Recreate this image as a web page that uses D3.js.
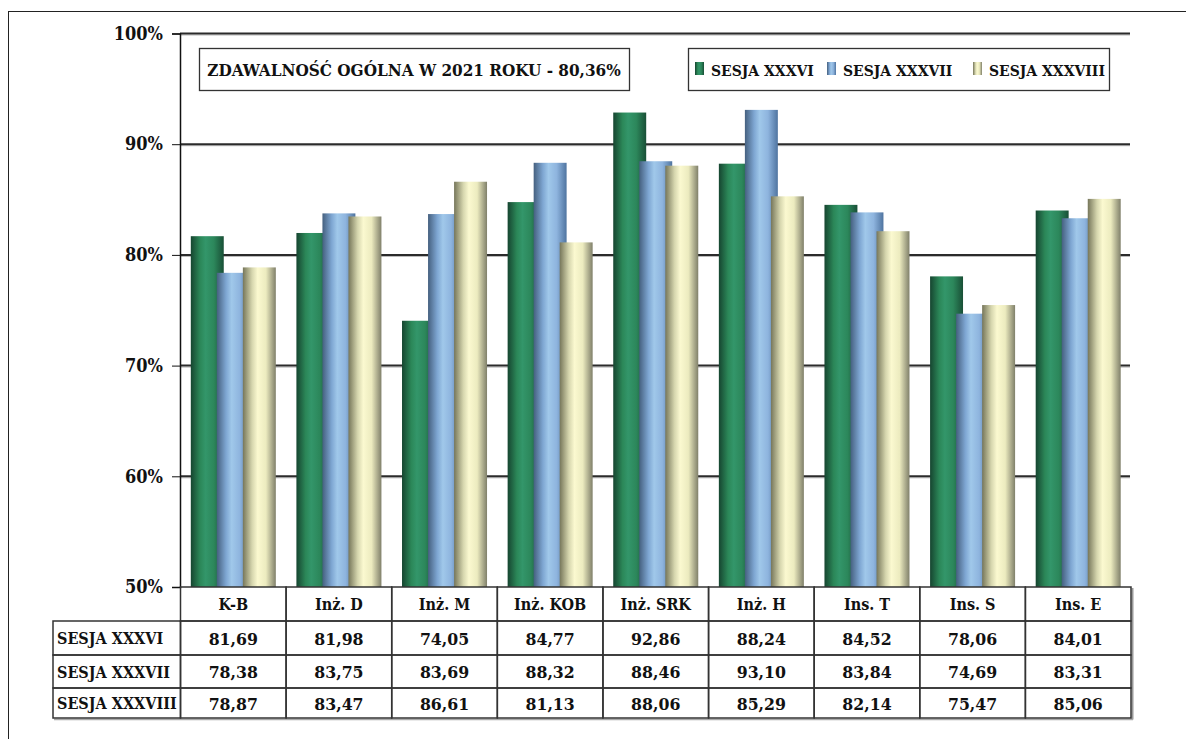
<!DOCTYPE html>
<html>
<head>
<meta charset="utf-8">
<script src="https://cdn.jsdelivr.net/npm/d3@7"></script>
<style>
  body { margin: 0; background: #fff; }
  text { font-family: "DejaVu Serif Condensed", "Liberation Serif", serif; font-weight: bold; fill: #111; }
</style>
</head>
<body>
<div id="chart"></div>
<script>
var categories = ["K-B", "Inż. D", "Inż. M", "Inż. KOB", "Inż. SRK", "Inż. H", "Ins. T", "Ins. S", "Ins. E"];
var seriesNames = ["SESJA XXXVI", "SESJA XXXVII", "SESJA XXXVIII"];
var s36 = [81.69, 81.98, 74.05, 84.77, 92.86, 88.24, 84.52, 78.06, 84.01];
var s37 = [78.38, 83.75, 83.69, 88.32, 88.46, 93.10, 83.84, 74.69, 83.31];
var s38 = [78.87, 83.47, 86.61, 81.13, 88.06, 85.29, 82.14, 75.47, 85.06];
var yTicks = [50, 60, 70, 80, 90, 100];
var title = "ZDAWALNOŚĆ OGÓLNA W 2021 ROKU - 80,36%";

var W = 1186, H = 739;
var series = [s36, s37, s38];

// cylinder-like gradients, one per series
var gradients = [
  ["#164530", "#2b8758", "#33966a", "#2c875b", "#194f36"],
  ["#45607f", "#7ea6d2", "#a0c8ea", "#8eb4de", "#4f74a0"],
  ["#76765a", "#d6d6ae", "#fbf9d0", "#ecebbf", "#80806a"]
];

var svg = d3.select('#chart')
  .append('svg')
    .attr('width', W)
    .attr('height', H);

var defs = svg.append('defs');
gradients.forEach(function (g, i) {
  var lg = defs.append('linearGradient')
    .attr('id', 'grad' + i)
    .attr('x1', 0).attr('x2', 1).attr('y1', 0).attr('y2', 0);
  var offs = [0, 0.28, 0.45, 0.7, 1];
  g.forEach(function (c, j) {
    lg.append('stop').attr('offset', offs[j]).attr('stop-color', c);
  });
});

// outer frame
svg.append('rect')
  .attr('x', 8.5).attr('y', 11.5)
  .attr('width', 1300).attr('height', 900)
  .attr('fill', 'none')
  .attr('stroke', '#222')
  .attr('stroke-width', 1);

var x = d3.scaleBand()
  .domain(categories)
  .range([180.5, 1131]);

var y = d3.scaleLinear()
  .domain([50, 100])
  .range([587, 33.5]);

var barW = x.bandwidth() * 0.312;
var step = barW * 0.79;
var groupW = 2 * step + barW;

// gridlines
var grid = svg.append('g');
yTicks.slice(1).forEach(function (t) {
  grid.append('line')
    .attr('x1', 180).attr('x2', 1130)
    .attr('y1', y(t) + 1.5).attr('y2', y(t) + 1.5)
    .attr('stroke', '#b5b5b5').attr('stroke-width', 1);
  grid.append('line')
    .attr('x1', 180).attr('x2', 1130)
    .attr('y1', y(t)).attr('y2', y(t))
    .attr('stroke', '#2b2b2b').attr('stroke-width', 2);
});

// bars, later series drawn on top of earlier ones
series.forEach(function (vals, si) {
  svg.append('g').selectAll('rect')
    .data(vals)
    .enter()
      .append('rect')
        .attr('x', function (d, i) {
          return x(categories[i]) + x.bandwidth() / 2 - groupW / 2 + si * step;
        })
        .attr('y', function (d) { return y(d); })
        .attr('width', barW)
        .attr('height', function (d) { return y(50) - y(d); })
        .attr('fill', 'url(#grad' + si + ')');
});

// y axis
var yAxis = d3.axisLeft(y)
  .tickValues(yTicks)
  .tickSize(8)
  .tickPadding(9)
  .tickFormat(function (d) { return d + '%'; });
var ax = svg.append('g')
  .attr('transform', 'translate(180,0)')
  .call(yAxis);
ax.select('.domain').attr('stroke', '#111').attr('stroke-width', 1.5);
ax.selectAll('.tick line').attr('stroke', '#111');
ax.selectAll('.tick text')
  .attr('font-size', 18)
  .attr('font-family', null)
  .style('fill', '#111');

// title box
svg.append('rect')
  .attr('x', 199.5).attr('y', 48.5)
  .attr('width', 430).attr('height', 42)
  .attr('fill', '#fff').attr('stroke', '#333').attr('stroke-width', 1.3);
svg.append('text')
  .attr('x', 414).attr('y', 76)
  .attr('text-anchor', 'middle')
  .attr('font-size', 17)
  .text(title);

// legend
var legend = svg.append('g');
legend.append('rect')
  .attr('x', 688.5).attr('y', 48.5)
  .attr('width', 421).attr('height', 42)
  .attr('fill', '#fff').attr('stroke', '#333').attr('stroke-width', 1.3);
var legX = [695, 827, 973];
seriesNames.forEach(function (n, i) {
  legend.append('rect')
    .attr('x', legX[i]).attr('y', 62)
    .attr('width', 9).attr('height', 13)
    .attr('fill', 'url(#grad' + i + ')');
  legend.append('text')
    .attr('x', legX[i] + 16).attr('y', 75.5)
    .attr('font-size', 15.5)
    .text(n);
});

// data table
var rowY = [587, 621, 655, 688, 718];
var tableLeft = 53;
var table = svg.append('g');
var lineColor = '#333';

// soft shadow on the table's right edge
table.append('line')
  .attr('x1', 1132.5).attr('x2', 1132.5)
  .attr('y1', rowY[0] + 1).attr('y2', rowY[4] + 1.5)
  .attr('stroke', '#999').attr('stroke-width', 2);
table.append('line')
  .attr('x1', tableLeft + 1).attr('x2', 1133)
  .attr('y1', rowY[4] + 1.5).attr('y2', rowY[4] + 1.5)
  .attr('stroke', '#aaa').attr('stroke-width', 1.5);

// header row
categories.forEach(function (c) {
  table.append('rect')
    .attr('x', x(c)).attr('y', rowY[0])
    .attr('width', x.bandwidth()).attr('height', rowY[1] - rowY[0])
    .attr('fill', 'none').attr('stroke', lineColor).attr('stroke-width', 1.5);
  table.append('text')
    .attr('x', x(c) + x.bandwidth() / 2)
    .attr('y', (rowY[0] + rowY[1]) / 2 + 6)
    .attr('text-anchor', 'middle')
    .attr('font-size', 16)
    .text(c);
});

series.forEach(function (vals, si) {
  var top = rowY[si + 1], bot = rowY[si + 2];
  table.append('rect')
    .attr('x', tableLeft).attr('y', top)
    .attr('width', x.range()[0] - tableLeft).attr('height', bot - top)
    .attr('fill', 'none').attr('stroke', lineColor).attr('stroke-width', 1.5);
  table.append('text')
    .attr('x', tableLeft + 4).attr('y', (top + bot) / 2 + 6)
    .attr('font-size', 16)
    .text(seriesNames[si]);
  vals.forEach(function (v, i) {
    table.append('rect')
      .attr('x', x(categories[i])).attr('y', top)
      .attr('width', x.bandwidth()).attr('height', bot - top)
      .attr('fill', 'none').attr('stroke', lineColor).attr('stroke-width', 1.5);
    table.append('text')
      .attr('x', x(categories[i]) + x.bandwidth() / 2)
      .attr('y', (top + bot) / 2 + 6.5)
      .attr('text-anchor', 'middle')
      .attr('font-size', 17.5)
      .text(d3.format('.2f')(v).replace('.', ','));
  });
});
</script>
</body>
</html>
